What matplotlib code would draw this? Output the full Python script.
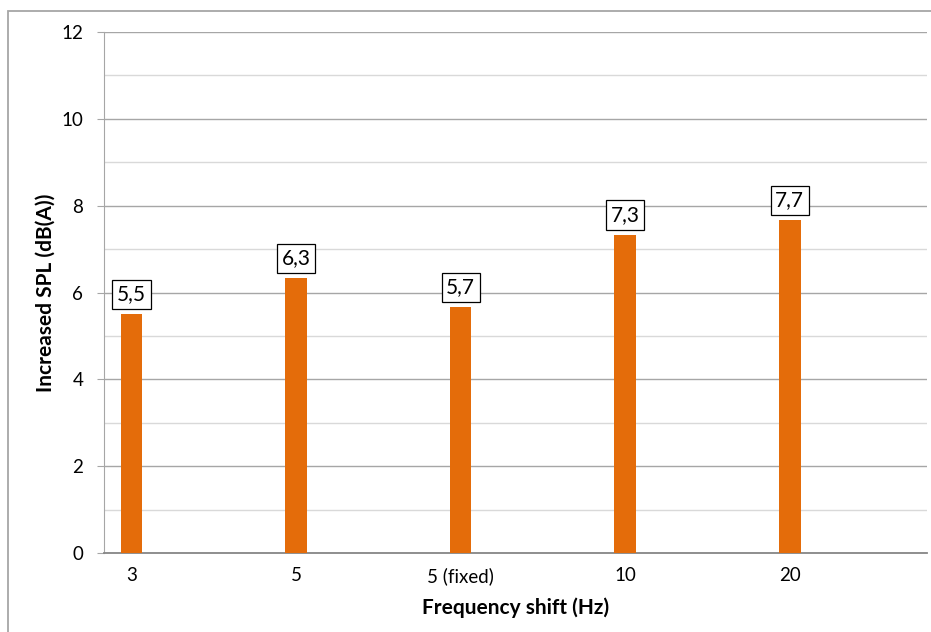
import numpy as np
import matplotlib
matplotlib.use("Agg")
import matplotlib.pyplot as plt
from matplotlib.patches import Rectangle

plt.rcParams['font.family'] = ['Lato', 'DejaVu Sans']

categories = ["3", "5", "5 (fixed)", "10", "20"]
spl_values = [5.5, 6.33, 5.67, 7.33, 7.67]
value_labels = ["5,5", "6,3", "5,7", "7,3", "7,7"]

fig = plt.figure(figsize=(9.31, 6.32), dpi=100)
ax = fig.add_axes([104/931, 1-553/632, (927-104)/931, (553-32)/632])

x = np.arange(len(categories))
ax.bar(x, spl_values, width=0.132, color='#E46C0A', zorder=3)

for xi, v, lab in zip(x, spl_values, value_labels):
    ax.annotate(lab, (xi, v), xytext=(0, 7), textcoords='offset points',
                ha='center', va='bottom', fontsize=15, zorder=4,
                bbox=dict(boxstyle='square,pad=0.22', fc='white', ec='black', lw=0.9))

ax.set_ylim(0, 12)
ax.set_xlim(-0.167, 4.834)
ax.set_yticks(np.arange(0, 13, 2))
ax.set_yticks(np.arange(1, 12, 2), minor=True)
ax.set_xticks(x)
ax.set_xticklabels(categories)

ax.grid(axis='y', which='major', color='#a6a6a6', lw=1.0, zorder=0)
ax.grid(axis='y', which='minor', color='#d9d9d9', lw=1.0, zorder=0)

for s in ['top', 'right']:
    ax.spines[s].set_visible(False)
ax.spines['left'].set_color('#a6a6a6')
ax.spines['bottom'].set_color('#868686')
ax.spines['bottom'].set_linewidth(1.3)

ax.tick_params(axis='y', which='major', length=5, color='#a6a6a6', pad=10, labelsize=13.5)
ax.tick_params(axis='y', which='minor', length=0)
ax.tick_params(axis='x', length=0, pad=10, labelsize=13.5)

ax.set_ylabel("Increased SPL (dB(A))", fontsize=15, fontweight='bold', labelpad=4)
ax.set_xlabel("Frequency shift (Hz)", fontsize=15, fontweight='bold', labelpad=9)

fig.patches.append(Rectangle((8/931, -0.05), 1.0, 1.05 - 11/632, transform=fig.transFigure,
                             fill=False, ec='#a6a6a6', lw=1.3))

fig.savefig("out.png", dpi=100)
